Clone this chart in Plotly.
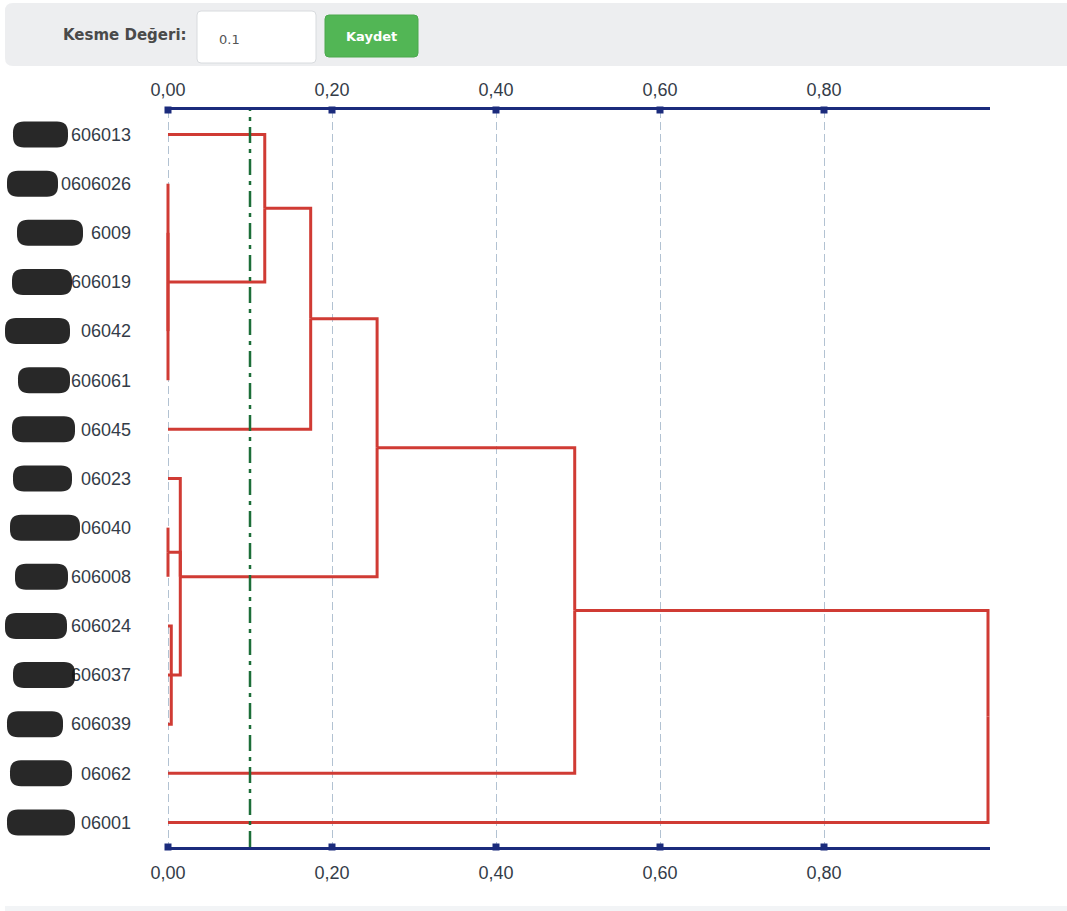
import plotly.graph_objects as go

# ---- data -------------------------------------------------------------
leaf_labels = ["606013", "0606026", "6009", "606019", "06042", "606061", "06045",
               "06023", "06040", "606008", "606024", "606037", "606039", "06062", "06001"]

cluster_ids = ["k1", "k2", "k3", "k4", "k5", "k6", "k7", "k8", "k9"]
cluster_heights = [0.0, 0.118, 0.174, 0.0, 0.004, 0.015, 0.255, 0.496, 1.0]
cluster_children = [
    ["0606026", "6009", "606019", "06042", "606061"],
    ["606013", "k1"],
    ["k2", "06045"],
    ["06040", "606008"],
    ["606024", "606037", "606039"],
    ["06023", "k4", "k5"],
    ["k3", "k6"],
    ["k7", "06062"],
    ["k8", "06001"],
]

cut_value = 0.1
tick_values = [0.0, 0.2, 0.4, 0.6, 0.8]
x_max = 1.0

# ---- page geometry ----------------------------------------------------
W, H = 1067, 911
PAD = 2  # px of breathing room so edge strokes are not clipped
ML, MR, MT, MB = 168 - PAD, 79 - PAD, 110, 64
PW, PH = W - ML - MR, H - MT - MB
x_pad = PAD * x_max / (PW - 2 * PAD)

def px(x):
    return (x - ML) / PW

def py(y):
    return (H - MB - y) / PH

def rounded_rect(x0, y0, x1, y1, r):
    pts = [
        f"M{px(x0 + r)},{py(y0)}", f"L{px(x1 - r)},{py(y0)}",
        f"Q{px(x1)},{py(y0)} {px(x1)},{py(y0 + r)}", f"L{px(x1)},{py(y1 - r)}",
        f"Q{px(x1)},{py(y1)} {px(x1 - r)},{py(y1)}", f"L{px(x0 + r)},{py(y1)}",
        f"Q{px(x0)},{py(y1)} {px(x0)},{py(y1 - r)}", f"L{px(x0)},{py(y0 + r)}",
        f"Q{px(x0)},{py(y0)} {px(x0 + r)},{py(y0)}", "Z",
    ]
    return " ".join(pts)

# ---- dendrogram layout --------------------------------------------------
pos = {name: float(i) for i, name in enumerate(leaf_labels)}
height = {name: 0.0 for name in leaf_labels}
for cid, h, kids in zip(cluster_ids, cluster_heights, cluster_children):
    ys = [pos[k] for k in kids]
    pos[cid] = (min(ys) + max(ys)) / 2
    height[cid] = h

lx, ly = [], []
for cid, kids in zip(cluster_ids, cluster_children):
    for k in kids:
        lx += [height[cid], height[cid], height[k], None]
        ly += [pos[cid], pos[k], pos[k], None]

RED = "#d03b34"
NAVY = "#1b2b7c"

fig = go.Figure()
fig.add_trace(go.Scatter(x=lx, y=ly, mode="lines",
                         line=dict(color=RED, width=3), hoverinfo="skip",
                         showlegend=False))

n_leaf = len(leaf_labels)
y_top, y_bot = -0.5, n_leaf - 0.5

# square markers on both axis lines
for y_line, xa in ((y_bot, "x"), (y_top, "x2")):
    fig.add_trace(go.Scatter(x=tick_values, y=[y_line] * len(tick_values), mode="markers",
                             xaxis=xa, marker=dict(symbol="square", size=7, color=NAVY),
                             cliponaxis=False, hoverinfo="skip", showlegend=False))

shapes = []
# toolbar strip
shapes.append(dict(type="path", xref="paper", yref="paper",
                   path=rounded_rect(5, 3, 1075, 66, 8),
                   fillcolor="#edeef0", line=dict(width=0), layer="below"))
# input box
shapes.append(dict(type="path", xref="paper", yref="paper",
                   path=rounded_rect(197, 11, 316, 63, 4),
                   fillcolor="#ffffff", line=dict(color="#d8dbde", width=1), layer="below"))
# save button
shapes.append(dict(type="path", xref="paper", yref="paper",
                   path=rounded_rect(325, 15, 418, 57, 4),
                   fillcolor="#52b655", line=dict(color="#4aa84d", width=1), layer="below"))
# footer strip
shapes.append(dict(type="rect", xref="paper", yref="paper",
                   x0=px(5), x1=px(1067), y0=py(906), y1=py(915),
                   fillcolor="#f2f4f6", line=dict(width=0), layer="below"))

# cut-off line
shapes.append(dict(type="line", xref="x", yref="paper", x0=cut_value, x1=cut_value,
                   y0=0, y1=1, line=dict(color="#1c6e38", width=2.5,
                                         dash="16px,6px,4px,6px")))

# masked label prefixes
redact_px = [(13, 68), (7, 58), (17, 83), (12, 72), (5, 70), (18, 70), (12, 75),
             (13, 72), (10, 80), (15, 68), (5, 67), (13, 75), (7, 63), (10, 72), (7, 75)]
for i, (a, b) in enumerate(redact_px):
    yc = MT + (i + 0.5) * PH / n_leaf
    shapes.append(dict(type="path", xref="paper", yref="paper",
                       path=rounded_rect(a, yc - 13, b, yc + 13, 11),
                       fillcolor="#111111", line=dict(width=0), opacity=0.9))

annotations = [
    dict(text="<b>Kesme Değeri:</b>", x=px(189), y=py(35), xref="paper", yref="paper",
         xanchor="right", yanchor="middle", showarrow=False,
         font=dict(family="DejaVu Sans", size=15, color="#4a4a4a")),
    dict(text="0.1", x=px(217), y=py(39), xref="paper", yref="paper",
         xanchor="left", yanchor="middle", showarrow=False,
         font=dict(family="DejaVu Sans", size=13, color="#555555")),
    dict(text="<b>Kaydet</b>", x=px(371.5), y=py(36), xref="paper", yref="paper",
         xanchor="center", yanchor="middle", showarrow=False,
         font=dict(family="DejaVu Sans", size=13, color="#ffffff")),
]

axis_common = dict(range=[-x_pad, x_max + x_pad], tickvals=tick_values, tickformat=".2f",
                   showline=True, linecolor=NAVY, linewidth=3, ticks="",
                   showgrid=True, gridcolor="#b2c2d2", gridwidth=1,
                   griddash="8px,4px", zeroline=False,
                   tickfont=dict(family="Liberation Sans", size=18, color="#343c48"))

fig.update_layout(
    width=W, height=H,
    margin=dict(l=ML, r=MR, t=MT, b=MB, autoexpand=False),
    paper_bgcolor="white", plot_bgcolor="white",
    separators=",.",
    xaxis=dict(**axis_common, side="bottom", ticklabelstandoff=7),
    xaxis2=dict(**axis_common, side="top", overlaying="x", matches="x",
                ticklabelstandoff=4),
    yaxis=dict(range=[y_bot, y_top], tickvals=list(range(n_leaf)), ticktext=leaf_labels,
               showgrid=False, zeroline=False, showline=False, ticks="",
               ticklabelstandoff=34,
               tickfont=dict(family="Liberation Sans", size=18, color="#343c48")),
    shapes=shapes, annotations=annotations,
    showlegend=False,
)

fig.write_html("out.html")
